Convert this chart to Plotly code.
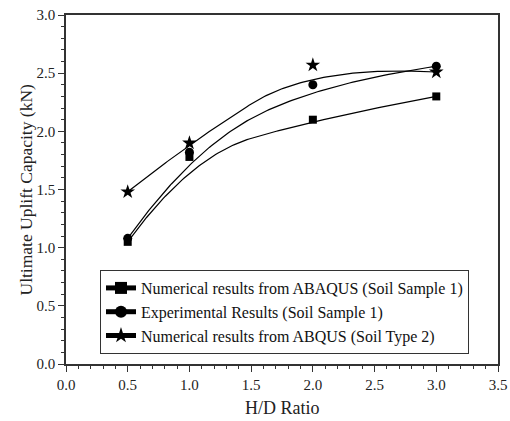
import numpy as np
import plotly.graph_objects as go

hd_ratio = [0.5, 1.0, 2.0, 3.0]
abaqus_soil1 = [1.05, 1.78, 2.10, 2.30]
experimental_soil1 = [1.08, 1.82, 2.40, 2.56]
abqus_soil2 = [1.48, 1.90, 2.57, 2.51]

names = ["Numerical results from ABAQUS (Soil Sample 1)",
         "Experimental Results (Soil Sample 1)",
         "Numerical results from ABQUS (Soil Type 2)"]
symbols = ["square", "circle", "star"]
sizes = [8, 9, 11]
x_title = "H/D Ratio"
y_title = "Ultimate Uplift Capacity (kN)"


def quad_bspline(xs, ys, n=60):
    P = np.column_stack([xs, ys]).astype(float)
    k = len(P)
    ends = [P[0]] + [(P[i] + P[i + 1]) / 2 for i in range(1, k - 2)] + [P[-1]]
    ctrl = [P[i] for i in range(1, k - 1)]
    out = []
    t = np.linspace(0, 1, n)[:, None]
    for s in range(len(ctrl)):
        a, c, b = ends[s], ctrl[s], ends[s + 1]
        seg = (1 - t) ** 2 * a + 2 * t * (1 - t) * c + t ** 2 * b
        out.append(seg if s == 0 else seg[1:])
    out = np.vstack(out)
    return out[:, 0], out[:, 1]


fig = go.Figure()
for ys, nm, sym, sz in zip([abaqus_soil1, experimental_soil1, abqus_soil2], names, symbols, sizes):
    cx, cy = quad_bspline(hd_ratio, ys)
    fig.add_trace(go.Scatter(x=cx, y=cy, mode="lines", line=dict(color="black", width=1.2),
                             showlegend=False, hoverinfo="skip"))
    fig.add_trace(go.Scatter(x=hd_ratio, y=ys, mode="markers", showlegend=False,
                             marker=dict(symbol=sym, size=sz, color="black")))
    fig.add_trace(go.Scatter(x=[None], y=[None], mode="lines+markers", name=nm,
                             line=dict(color="black", width=1),
                             marker=dict(symbol=sym, size=sz, color="black")))

font = "Times New Roman, Liberation Serif, serif"
tick_font = dict(family=font, size=15, color="#222")
axis_common = dict(showline=True, linecolor="#333", linewidth=1.6, mirror=True,
                   ticks="outside", ticklen=6, tickwidth=1.3, tickcolor="#333",
                   showgrid=False, zeroline=False, ticklabeloverflow="allow",
                   tickfont=tick_font,
                   minor=dict(ticks="outside", ticklen=3, tickwidth=1.3, tickcolor="#333"))

fig.update_layout(
    template="none",
    width=510, height=421,
    margin=dict(l=66, r=12, t=15, b=57),
    plot_bgcolor="white", paper_bgcolor="white",
    font=dict(family=font, size=15, color="#222"),
    xaxis=dict(range=[0, 3.5], dtick=0.5, tick0=0, tickformat=".1f", **axis_common),
    yaxis=dict(range=[0, 3.0], dtick=0.5, tick0=0, tickformat=".1f", **axis_common),
    legend=dict(x=0.0787, y=0.2693, xanchor="left", yanchor="top",
                bordercolor="#333", borderwidth=1, bgcolor="white",
                font=dict(family=font, size=16, color="#111"),
                tracegroupgap=0, itemsizing="constant"),
    annotations=[
        dict(text=x_title, xref="paper", yref="paper", x=0.5, y=-0.125,
             xanchor="center", yanchor="middle", showarrow=False,
             font=dict(family=font, size=18, color="#222")),
        dict(text=y_title, xref="paper", yref="paper", x=-0.0949, y=0.5,
             xanchor="center", yanchor="middle", showarrow=False, textangle=-90,
             font=dict(family=font, size=17.5, color="#222")),
    ],
)

fig.write_html("out.html", config={"displayModeBar": False},
               post_script="document.body.style.margin='0';document.body.style.overflow='hidden';")
